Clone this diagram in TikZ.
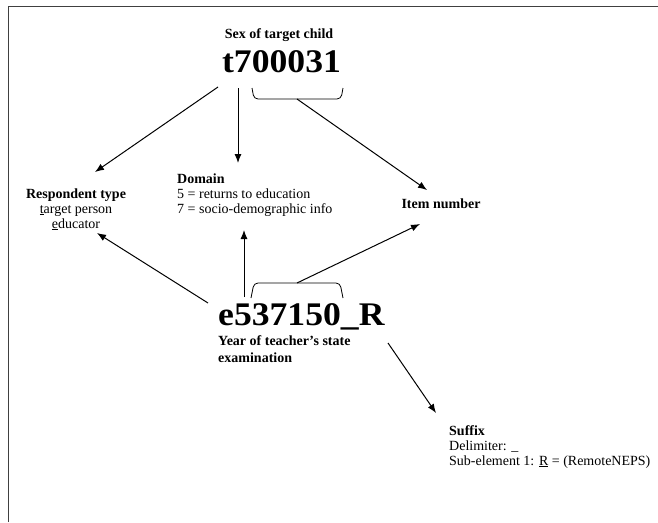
\documentclass[tikz,border=0pt]{standalone}
\usepackage{fontspec}
\setmainfont{Liberation Serif}
\newfontfamily\widebold[FakeStretch=1.08]{Liberation Serif}
\usetikzlibrary{arrows.meta}
\newcommand{\bodyfont}{\fontsize{14}{15}\selectfont}
\newcommand{\bigfont}{\widebold\fontsize{33}{36}\selectfont\bfseries}
\begin{document}
\begin{tikzpicture}[x=1pt,y=-1pt,
  lbl/.style={font=\bodyfont},
  varname/.style={font=\bigfont,anchor=base},
  arr/.style={-{Latex[length=9pt,width=7pt]},line width=1pt},
  brace/.style={line width=0.8pt,rounded corners=4pt}]
\tikzstyle{every node}+=[inner sep=0pt]
\useasboundingbox (0,0) rectangle (658,522);
\draw [black!75,line width=1.5pt] (8.5,522) -- (8.5,6.5) -- (658,6.5);
% top variable
\node [lbl,anchor=base,font=\bodyfont\bfseries] (sex) at (279,38) {Sex of target child};
\node [varname] (tvar) at (281.5,72) {t700031};
% labels
\node [lbl,anchor=base] (resp) at (76,198) {\textbf{Respondent type}};
\node [lbl,anchor=base] (resp2) at (76,213) {\underline{t}arget person};
\node [lbl,anchor=base] (resp3) at (76,228) {\underline{e}ducator};
\node [lbl,anchor=base west] (dom) at (177,183) {\textbf{Domain}};
\node [lbl,anchor=base west] (dom2) at (177,198) {5 = returns to education};
\node [lbl,anchor=base west] (dom3) at (177,213) {7 = socio-demographic info};
\node [lbl,anchor=base] (item) at (441,208) {\textbf{Item number}};
% bottom variable
\node [varname,anchor=base west] (evar) at (218,325) {e537150\_R};
\node [lbl,anchor=base west] (year) at (218,345) {\textbf{Year of teacher’s state}};
\node [lbl,anchor=base west] (year2) at (218,362) {\textbf{examination}};
\node [lbl,anchor=base west] (suf) at (449,435) {\textbf{Suffix}};
\node [lbl,anchor=base west] (suf2) at (449,450) {Delimiter: \_};
\node [lbl,anchor=base west] (suf3) at (449,465) {Sub-element 1: \underline{R} = (RemoteNEPS)};
% braces
\draw [brace] (252,88) -- (254,99) -- (341,99) -- (343,88);
\coordinate (tbm) at (297,99);
\draw [brace] (251,298) -- (254,283) -- (340,283) -- (343,298);
\coordinate (ebm) at (297,283);
% arrow ends
\coordinate (t1) at (218,87);
\coordinate (t2) at (238,88);
\coordinate (e1) at (208,303);
\coordinate (e2) at (244,297);
\coordinate (e3) at (388,343);
\coordinate (respN) at (95,172);
\coordinate (respS) at (97,233);
\coordinate (domN) at (238,163);
\coordinate (domS) at (244,230);
\coordinate (itemN) at (427,190);
\coordinate (itemS) at (420,224);
\coordinate (sufN) at (436,413);
\draw [arr] (t1) -- (respN);
\draw [arr] (t2) -- (domN);
\draw [arr] (tbm) -- (itemN);
\draw [arr] (e1) -- (respS);
\draw [arr] (e2) -- (domS);
\draw [arr] (ebm) -- (itemS);
\draw [arr] (e3) -- (sufN);
\end{tikzpicture}
\end{document}
